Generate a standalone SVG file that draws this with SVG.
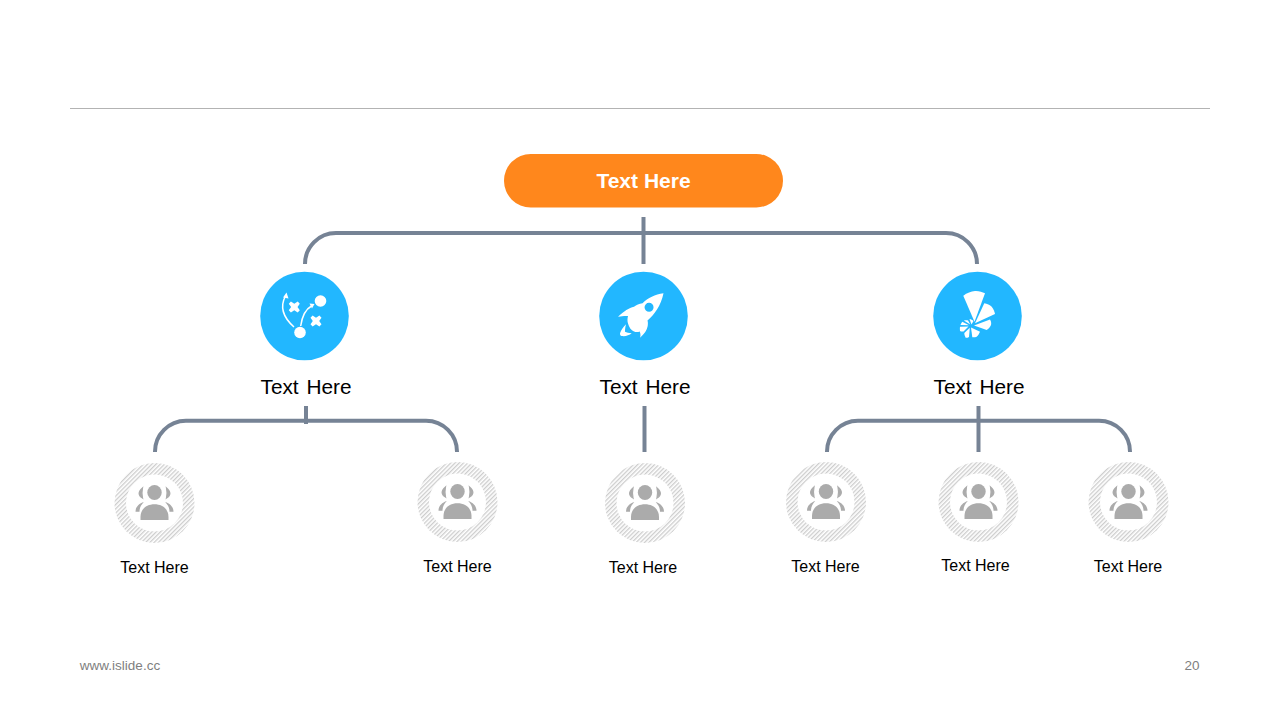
<svg xmlns="http://www.w3.org/2000/svg" xmlns:xlink="http://www.w3.org/1999/xlink" width="1280" height="720" viewBox="0 0 1280 720">
<style>
text{font-family:"Liberation Sans",Arial,sans-serif;text-anchor:middle}
.c{fill:none;stroke:#768395;stroke-width:4}
.l{font-size:20.8px;fill:#000;word-spacing:2px}
.s{font-size:16px;fill:#000}
.f{font-size:13.5px;fill:#808080}
.b{fill:#22b7ff}
.w{fill:#fff}
.wl{fill:none;stroke:#fff;stroke-width:1.5}
</style>
<defs>
<pattern id="h" width="3" height="3" patternUnits="userSpaceOnUse" patternTransform="rotate(-45)">
<rect width="3" height="3" fill="#fff"/><rect width="3" height="1.300" fill="#cdcdcd"/>
</pattern>
<g id="p">
<circle r="40" fill="url(#h)"/>
<circle r="28.500" fill="#fff"/>
<ellipse cx="0" cy="-10.500" rx="7.200" ry="7.500" fill="#ababab"/>
<path d="M-14 17V14C-14 6 -8 1.300 0 1.300S14 6 14 14V17Z" fill="#ababab"/>
<path d="M-12 -15C-16.500 -11 -16.500 -8 -12 -5C-12.800 -8 -12.800 -11 -12 -15Z" fill="#ababab" stroke="#ababab" stroke-width="1.200"/>
<path d="M12 -15C16.500 -11 16.500 -8 12 -5C12.800 -8 12.800 -11 12 -15Z" fill="#ababab" stroke="#ababab" stroke-width="1.200"/>
<path d="M-19 8.700C-19 4 -15.500 0.500 -10.700 -1C-13.500 2 -15 5 -15 8.700Z" fill="#ababab"/>
<path d="M19 8.700C19 4 15.500 0.500 10.700 -1C13.500 2 15 5 15 8.700Z" fill="#ababab"/>
</g>
</defs>
<rect width="1280" height="720" fill="#fff"/>
<line x1="70" y1="108.500" x2="1210" y2="108.500" stroke="#b3b3b3" stroke-width="1"/>
<g id="connectors">
<path class="c" d="M305 264A31 31 0 0 1 336 233H946A31 31 0 0 1 977 264"/>
<path class="c" d="M643.500 217V264"/>
<path class="c" d="M155 452A31 31 0 0 1 186 420.800H426A31 31 0 0 1 457 452"/>
<path class="c" d="M306 406V424"/>
<path class="c" d="M644.500 406V452"/>
<path class="c" d="M827 452A31 31 0 0 1 858 420.800H1099A31 31 0 0 1 1130 452"/>
<path class="c" d="M978.500 406V452"/>
</g>
<g id="root">
<rect x="504" y="154" width="279" height="53.500" rx="26.700" fill="#ff871c"/>
<text x="643.500" y="188" font-size="21" font-weight="700" fill="#fff">Text Here</text>
</g>
<g id="node-strategy">
<circle class="b" cx="304.500" cy="316" r="44.300"/>
<circle class="w" cx="320.500" cy="301" r="5.800"/>
<circle class="w" cx="300" cy="332.500" r="5.800"/>
<path class="wl" d="M294 327C285 319 279 308 285.500 296"/>
<path class="w" d="M283 297.500L286.500 292.500L288.500 298.500Z"/>
<path class="wl" d="M300.700 326C302 317 306 309 311.500 306"/>
<path class="w" d="M309.500 303.500L314.500 304L312 308.500Z"/>
<path class="w" d="M294.300 303.800L297.700 301.500L299.800 303.700L297.500 307L299.800 310.300L297.700 312.500L294.300 310.200L290.900 312.500L288.800 310.300L291.100 307L288.800 303.700L290.900 301.500Z"/>
<path class="w" d="M316 317.800L319.400 315.500L321.500 317.700L319.200 321L321.500 324.300L319.400 326.500L316 324.200L312.600 326.500L310.500 324.300L312.800 321L310.500 317.700L312.600 315.500Z"/>
<text class="l" x="306" y="393.500">Text Here</text>
</g>
<g id="node-rocket">
<circle class="b" cx="643.500" cy="316" r="44.300"/>
<path class="w" fill-rule="evenodd" d="M663.500 293.300C655 294.500 648 298 642.500 303.300C639 304 636.500 305 634 306.700C629 308 624 311 618 316.700C622 316 625 315.800 628 316C627.300 318.500 627.300 321 628 323.500C629 327 631 330.500 634 331.500C636 332.200 638 332.200 639.700 331.500C640.700 334 640.700 336 640 337.700C644.500 334 647 330 647.700 326C648 324 648 322 647.500 320.500C654 315 661 306 663.500 293.300ZM649 302.800A4.500 4.500 0 1 0 649.100 311.800A4.500 4.500 0 1 0 649 302.800Z"/>
<path class="w" d="M626 324.300C623 327 621 330.500 620 333.300C620 335 620.500 336 621.700 336C625.500 336.500 629 335.500 631.700 333.300C629 333 626.500 332.500 625 331.700C625 329 625.300 327 626 324.300Z"/>
<text class="l" x="645" y="393.500">Text Here</text>
</g>
<g id="node-fan">
<circle class="b" cx="977.500" cy="316" r="44.300"/>
<path class="w" d="M963.300 295.700C967 293 971 291.300 975 291C979 290.800 982 291.800 985 293.300L974.500 321.700Z"/>
<path class="w" d="M984.300 303.300C987 304 990 305 991.700 306.700C993.500 309 994.500 311.500 995 314L975 323.300Z"/>
<path class="w" d="M990 319.500C991 321 991.500 323 991 325C990 327 988.500 329 986.700 330L974 325.500Z"/>
<path class="w" d="M980 331.700C979 334 978 335.500 976.700 336.700C975.500 337.300 974 337.500 972.300 337.300L971 327.500Z"/>
<path class="w" d="M969 337C967.500 337.800 966.500 338 965.700 337.700C964.800 336 964.300 334.500 964.300 333L969.800 327.800Z"/>
<path class="w" d="M963.500 331.500C962 331.800 961 331.500 960 331C959.800 329.500 959.800 328 960 326.700L968.500 326.500Z"/>
<path class="w" d="M960.500 325C961 323.500 961.500 322.500 962.300 321.700L969 325.300Z"/>
<path class="w" d="M963.800 320.500C965.500 320 967 320 968 320.500L970.300 324.500Z"/>
<path class="w" d="M969.500 319C971 319.300 972.500 320 973.500 321L971.500 324.500Z"/>
<text class="l" x="979" y="393.500">Text Here</text>
</g>
<g id="leaf-1"><use xlink:href="#p" href="#p" x="154.500" y="503"/><text class="s" x="154.500" y="572.500">Text Here</text></g>
<g id="leaf-2"><use xlink:href="#p" href="#p" x="457.500" y="502"/><text class="s" x="457.500" y="571.500">Text Here</text></g>
<g id="leaf-3"><use xlink:href="#p" href="#p" x="645" y="503"/><text class="s" x="643" y="572.500">Text Here</text></g>
<g id="leaf-4"><use xlink:href="#p" href="#p" x="826" y="502"/><text class="s" x="825.500" y="571.500">Text Here</text></g>
<g id="leaf-5"><use xlink:href="#p" href="#p" x="978.500" y="502"/><text class="s" x="975.500" y="571">Text Here</text></g>
<g id="leaf-6"><use xlink:href="#p" href="#p" x="1128.500" y="502"/><text class="s" x="1128" y="571.500">Text Here</text></g>
<text class="f" x="120" y="670">www.islide.cc</text>
<text class="f" x="1192" y="670">20</text>
</svg>
